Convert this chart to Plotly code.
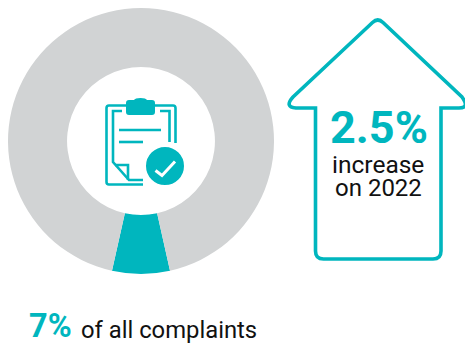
import plotly.graph_objects as go

# Share of complaints shown by the ring
slice_labels = ["This category", "All other complaints"]
slice_values = [7, 93]
headline_share = "7%"
share_caption = "of all complaints"
change_value = "2.5%"
change_caption = ["increase", "on 2022"]

TEAL = "#00B6BE"
GREY = "#D1D3D4"
W, H = 465, 345
FONT = "Roboto"

fig = go.Figure()

# Ring, with the highlighted slice centred at the bottom
fig.add_trace(go.Pie(
    labels=slice_labels,
    values=slice_values,
    hole=0.556,
    sort=False,
    direction="clockwise",
    rotation=180 - slice_values[0] * 3.6 / 2,
    marker=dict(colors=[TEAL, GREY], line=dict(width=0)),
    textinfo="none",
    hoverinfo="label+percent",
    showlegend=False,
    domain=dict(x=[8 / W, 274 / W], y=[(H - 274) / H, (H - 8) / H]),
))


def stroke(path, width=2.6, color=TEAL):
    return dict(type="path", path=path, xref="x", yref="y", layer="above",
                line=dict(color=color, width=width), fillcolor="rgba(0,0,0,0)")


def solid(path):
    return dict(type="path", path=path, xref="x", yref="y", layer="above",
                line=dict(width=0), fillcolor=TEAL)


shapes = [
    # Upward arrow outline
    stroke("M 372.5,22.5 Q 377.8,17.5 383,22.5 L 462,97 Q 470,108 459,108 L 441,108 "
           "L 441,251 Q 441,259 433,259 L 323.5,259 Q 315.5,259 315.5,251 L 315.5,108 "
           "L 296,108 Q 284,107 293,97 Z", width=3.6),
    # Clipboard board and sheet
    stroke("M 126,105.5 L 109,105.5 Q 106.5,105.5 106.5,108 L 106.5,182 Q 106.5,184.5 109,184.5 L 143,184.5"),
    stroke("M 155,105.5 L 173,105.5 Q 175.5,105.5 175.5,108 L 175.5,143"),
    stroke("M 122,111 L 113,111 L 113,162 L 129,180 L 143,180"),
    stroke("M 160,111 L 169.5,111 L 169.5,142"),
    stroke("M 115,165 L 128,165 L 128,180"),
    stroke("M 119,130 L 161,130"),
    stroke("M 119,142 L 143,142"),
    # Clipboard clip
    solid("M 126,103 Q 126,100 129,100 L 134,100 Q 135,98 140.5,98 Q 146,98 147,100 L 152,100 "
          "Q 155,100 155,103 L 155,112 Q 155,115 152,115 L 129,115 Q 126,115 126,112 Z"),
    # Tick badge
    dict(type="circle", xref="x", yref="y", layer="above", x0=145, x1=185, y0=146, y1=186,
         line=dict(width=2, color="white"), fillcolor=TEAL),
    stroke("M 155.5,170.5 L 162,175.5 L 175,161.5", width=3, color="white"),
]


def label(text, x, y, size, color="#111111", bold=False, anchor="center"):
    return dict(text=f"<b>{text}</b>" if bold else text, x=x, y=y, xref="x", yref="y",
                showarrow=False, xanchor=anchor, yanchor="middle",
                font=dict(family=FONT, size=size, color=color))


annotations = [
    label(change_value, 379, 127, 45, TEAL, True),
    label(change_caption[0], 378, 164, 24.5),
    label(change_caption[1], 378, 188, 24),
    label(headline_share, 27, 326, 32.5, TEAL, True, "left"),
    label(share_caption, 79, 330, 23.8, anchor="left"),
]

hidden = dict(visible=False, fixedrange=True)
fig.update_layout(
    width=W, height=H,
    margin=dict(l=0, r=0, t=0, b=0),
    paper_bgcolor="white", plot_bgcolor="rgba(0,0,0,0)",
    xaxis=dict(range=[0, W], domain=[0, 1], **hidden),
    yaxis=dict(range=[H, 0], domain=[0, 1], **hidden),
    shapes=shapes,
    annotations=annotations,
)

fig.write_html("out.html", config=dict(displayModeBar=False))
